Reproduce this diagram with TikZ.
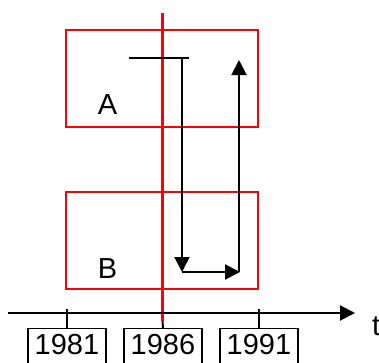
\documentclass[tikz,border=0pt]{standalone}
\usepackage{fontspec}
\setmainfont{Liberation Sans}
\usetikzlibrary{arrows.meta}
\begin{document}
\begin{tikzpicture}[x=1pt,y=-1pt,
  redbox/.style={draw=red,line width=2pt,minimum width=192pt,minimum height=97pt,inner sep=0pt},
  yearbox/.style={draw=black,line width=1.4pt,minimum width=78pt,minimum height=44pt,inner sep=0pt,anchor=north},
  lbl/.style={inner sep=0pt,font=\fontsize{29}{34}\selectfont},
  blk/.style={draw=black,line width=2pt},
  tip/.style={-{Triangle[length=15pt,width=15pt]}}]
\useasboundingbox (0,0) rectangle (379,362);
% boxes
\node[redbox] (boxA) at (162,78.5) {};
\node[redbox] (boxB) at (162,240.5) {};
% red vertical line
\coordinate (rtop) at (162.5,13);
\coordinate (rbot) at (162.5,321);
\draw[red,line width=2.4pt] (rtop) -- (rbot);
% axis
\coordinate (ax0) at (8,313);
\coordinate (ax1) at (355,313);
\draw[blk,tip] (ax0) -- (ax1);
\node[lbl,anchor=base west] (t) at (372,335) {t};
% year boxes and ticks
\node[yearbox] (y81) at (67,328) {};
\node[yearbox] (y86) at (163,328) {};
\node[yearbox] (y91) at (259,328) {};
\node[lbl,anchor=base] (l81) at (67,354) {1981};
\node[lbl,anchor=base] (l86) at (163,354) {1986};
\node[lbl,anchor=base] (l91) at (259,354) {1991};
\coordinate (k81) at (67,309);
\coordinate (k91) at (259,309);
\draw[blk] (k81) -- (y81.north);
\draw[blk] (k91) -- (y91.north);
\draw[blk] (rbot) -- (y86.north);
% labels
\node[lbl,anchor=base] (A) at (107.5,114) {A};
\node[lbl,anchor=base] (B) at (107.5,278) {B};
% path arrows
\coordinate (h0) at (129,58);
\coordinate (h1) at (189,58);
\coordinate (d0) at (182,58);
\coordinate (d1) at (182,272);
\coordinate (r1) at (240,272);
\coordinate (u0) at (239,272);
\coordinate (u1) at (239,60);
\draw[blk] (h0) -- (h1);
\draw[blk,tip] (d0) -- (d1);
\draw[blk,tip] (d1) -- (r1);
\draw[blk,tip] (u0) -- (u1);
\end{tikzpicture}
\end{document}
